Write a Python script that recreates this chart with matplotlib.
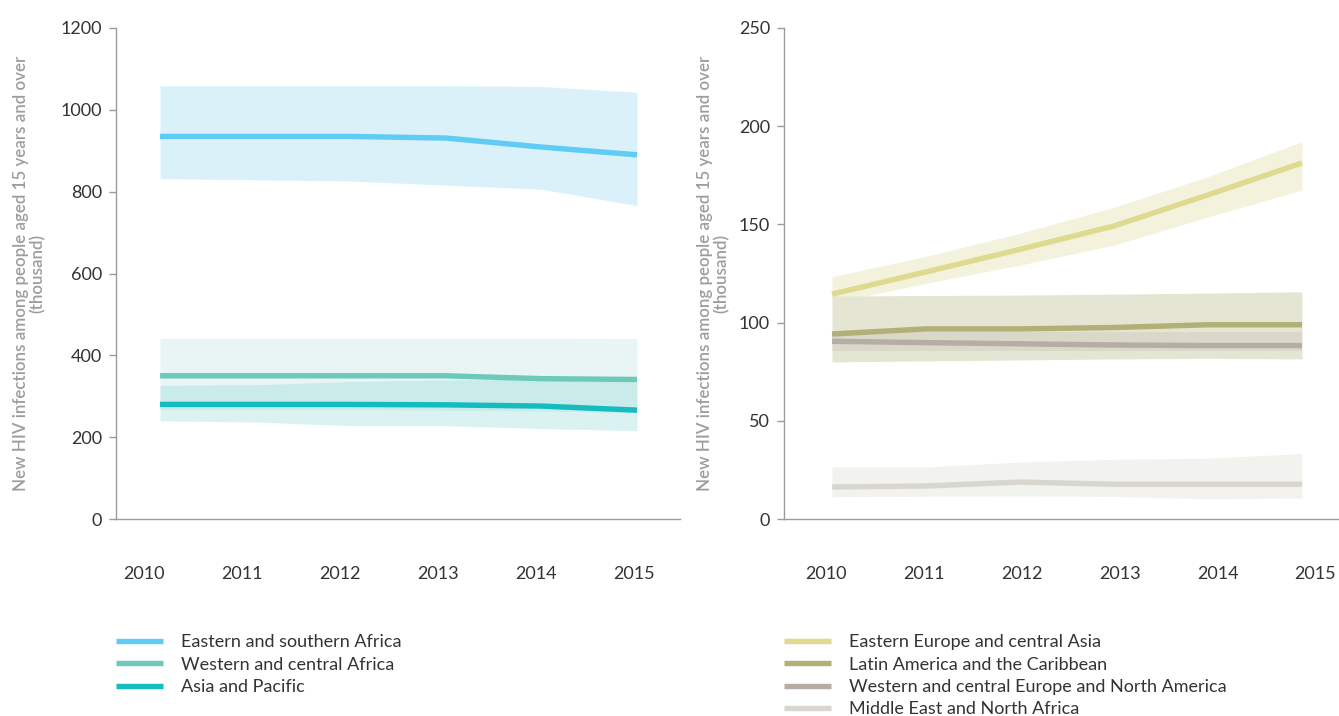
import matplotlib
matplotlib.use("Agg")
import matplotlib.pyplot as plt
import numpy as np

plt.rcParams['font.family'] = ['Lato', 'DejaVu Sans']

years = [2010, 2011, 2012, 2013, 2014, 2015]
year_labels = ['2010', '2011', '2012', '2013', '2014', '2015']

# Left panel (thousand)
esa_mid = [935, 935, 935, 931, 909, 890]
esa_hi = [1059, 1059, 1059, 1059, 1057, 1043]
esa_lo = [832, 829, 826, 816, 806, 766]

wca_mid = [350, 350, 350, 350, 343, 341]
wca_hi = [442, 442, 442, 442, 442, 441]
wca_lo = [268, 268, 268, 266, 264, 260]

ap_mid = [280, 280, 280, 279, 276, 266]
ap_hi = [327, 328, 336, 340, 342, 340]
ap_lo = [240, 237, 228, 228, 221, 216]

# Right panel (thousand)
eeca_mid = [114.5, 125.8, 137.3, 149.2, 165.0, 181.3]
eeca_hi = [123.4, 133.7, 145.5, 158.7, 174.3, 192.1]
eeca_lo = [110.0, 120.0, 129.3, 139.5, 153.8, 167.5]

lac_mid = [94.2, 96.8, 96.8, 97.5, 98.9, 98.9]
lac_hi = [113.5, 113.8, 114.0, 114.5, 115.0, 115.7]
lac_lo = [80.0, 80.5, 81.0, 81.5, 81.8, 81.5]

wcena_mid = [90.5, 89.8, 89.2, 88.6, 88.3, 88.3]
wcena_hi = [95.0, 95.0, 95.0, 95.0, 95.0, 95.0]
wcena_lo = [85.5, 85.5, 85.5, 85.5, 85.5, 85.5]

mena_mid = [16.3, 16.8, 18.8, 17.7, 17.7, 17.7]
mena_hi = [26.5, 26.5, 29.0, 30.4, 31.0, 33.3]
mena_lo = [11.4, 11.6, 11.8, 11.5, 10.3, 10.7]

left_names = ['Eastern and southern Africa', 'Western and central Africa', 'Asia and Pacific']
right_names = ['Eastern Europe and central Asia', 'Latin America and the Caribbean',
               'Western and central Europe and North America', 'Middle East and North Africa']

ylabel = 'New HIV infections among people aged 15 years and over\n(thousand)'

W, H = 1339, 716
fig = plt.figure(figsize=(W / 100, H / 100), dpi=100)

axL = fig.add_axes([116 / W, (H - 519) / H, (680 - 116) / W, 491 / H])
axR = fig.add_axes([784 / W, (H - 519) / H, (1339 - 784) / W, 491 / H])

LW = 3.9
txt_col = '#333333'

# left
bandsL = [
    (esa_lo, esa_hi, '#DAF1FA', 1.0),
    (wca_lo, wca_hi, '#E8F5F4', 1.0),
    (ap_lo, ap_hi, '#6FCFCF', 0.25),
]
for lo, hi, c, a in bandsL:
    axL.fill_between(years, lo, hi, color=c, alpha=a, lw=0)
linesL = [(esa_mid, '#5FCCF5'), (wca_mid, '#6DC9BA'), (ap_mid, '#14BCC0')]
hL = []
for (mid, c), name in zip(linesL, left_names):
    h, = axL.plot(years, mid, color=c, lw=LW, solid_capstyle='butt', label=name)
    hL.append(h)

# right
bandsR = [
    (eeca_lo, eeca_hi, '#F2F2DD', 1.0),
    (lac_lo, lac_hi, '#E4E5D3', 1.0),
    (wcena_lo, wcena_hi, '#C8C0B6', 0.35),
    (mena_lo, mena_hi, '#F2F2EE', 1.0),
]
for lo, hi, c, a in bandsR:
    axR.fill_between(years, lo, hi, color=c, alpha=a, lw=0)
linesR = [(eeca_mid, '#DFDA90'), (lac_mid, '#B0B077'), (wcena_mid, '#B6ADA6'), (mena_mid, '#D9D6D0')]
hR = []
for (mid, c), name in zip(linesR, right_names):
    h, = axR.plot(years, mid, color=c, lw=LW, solid_capstyle='butt', label=name)
    hR.append(h)

def style(ax, ylim, yticks, xlim, xtick_start, xtick_step):
    ax.set_ylim(*ylim)
    ax.set_xlim(*xlim)
    ax.set_yticks(yticks)
    ax.set_yticklabels([str(t) for t in yticks])
    ax.set_xticks([xtick_start + xtick_step * i for i in range(len(years))])
    ax.set_xticklabels(year_labels)
    for s in ['top', 'right']:
        ax.spines[s].set_visible(False)
    for s in ['left', 'bottom']:
        ax.spines[s].set_color('#9a9a9a')
        ax.spines[s].set_linewidth(1.0)
    ax.tick_params(axis='y', length=5, width=1, color='#9a9a9a', labelsize=13,
                   labelcolor=txt_col, pad=5)
    ax.tick_params(axis='x', length=0, labelsize=13, labelcolor=txt_col, pad=34)
    ax.set_ylabel(ylabel, color='#9d9d9d', fontsize=12.2, fontweight='semibold',
                  linespacing=1.1)
    ax.set_facecolor('none')

style(axL, (0, 1200), [0, 200, 400, 600, 800, 1000, 1200],
      (2009.539, 2015.451), 2009.832, 1.027)
style(axR, (0, 250), [0, 50, 100, 150, 200, 250],
      (2009.489, 2015.394), 2009.936, 1.0415)
axL.yaxis.set_label_coords(-0.124, 0.5)
axR.yaxis.set_label_coords(-0.097, 0.5)

legkw = dict(frameon=False, handlelength=2.6, handletextpad=1.0,
             labelspacing=0.36, borderaxespad=0, borderpad=0, labelcolor=txt_col,
             prop={'family': ['Lato', 'DejaVu Sans'], 'size': 13})
fig.legend(handles=hL, loc='upper left', bbox_to_anchor=(116 / W, 1 - 634 / H), **legkw)
fig.legend(handles=hR, loc='upper left', bbox_to_anchor=(784 / W, 1 - 634 / H), **legkw)

fig.savefig('out.png', dpi=100)
